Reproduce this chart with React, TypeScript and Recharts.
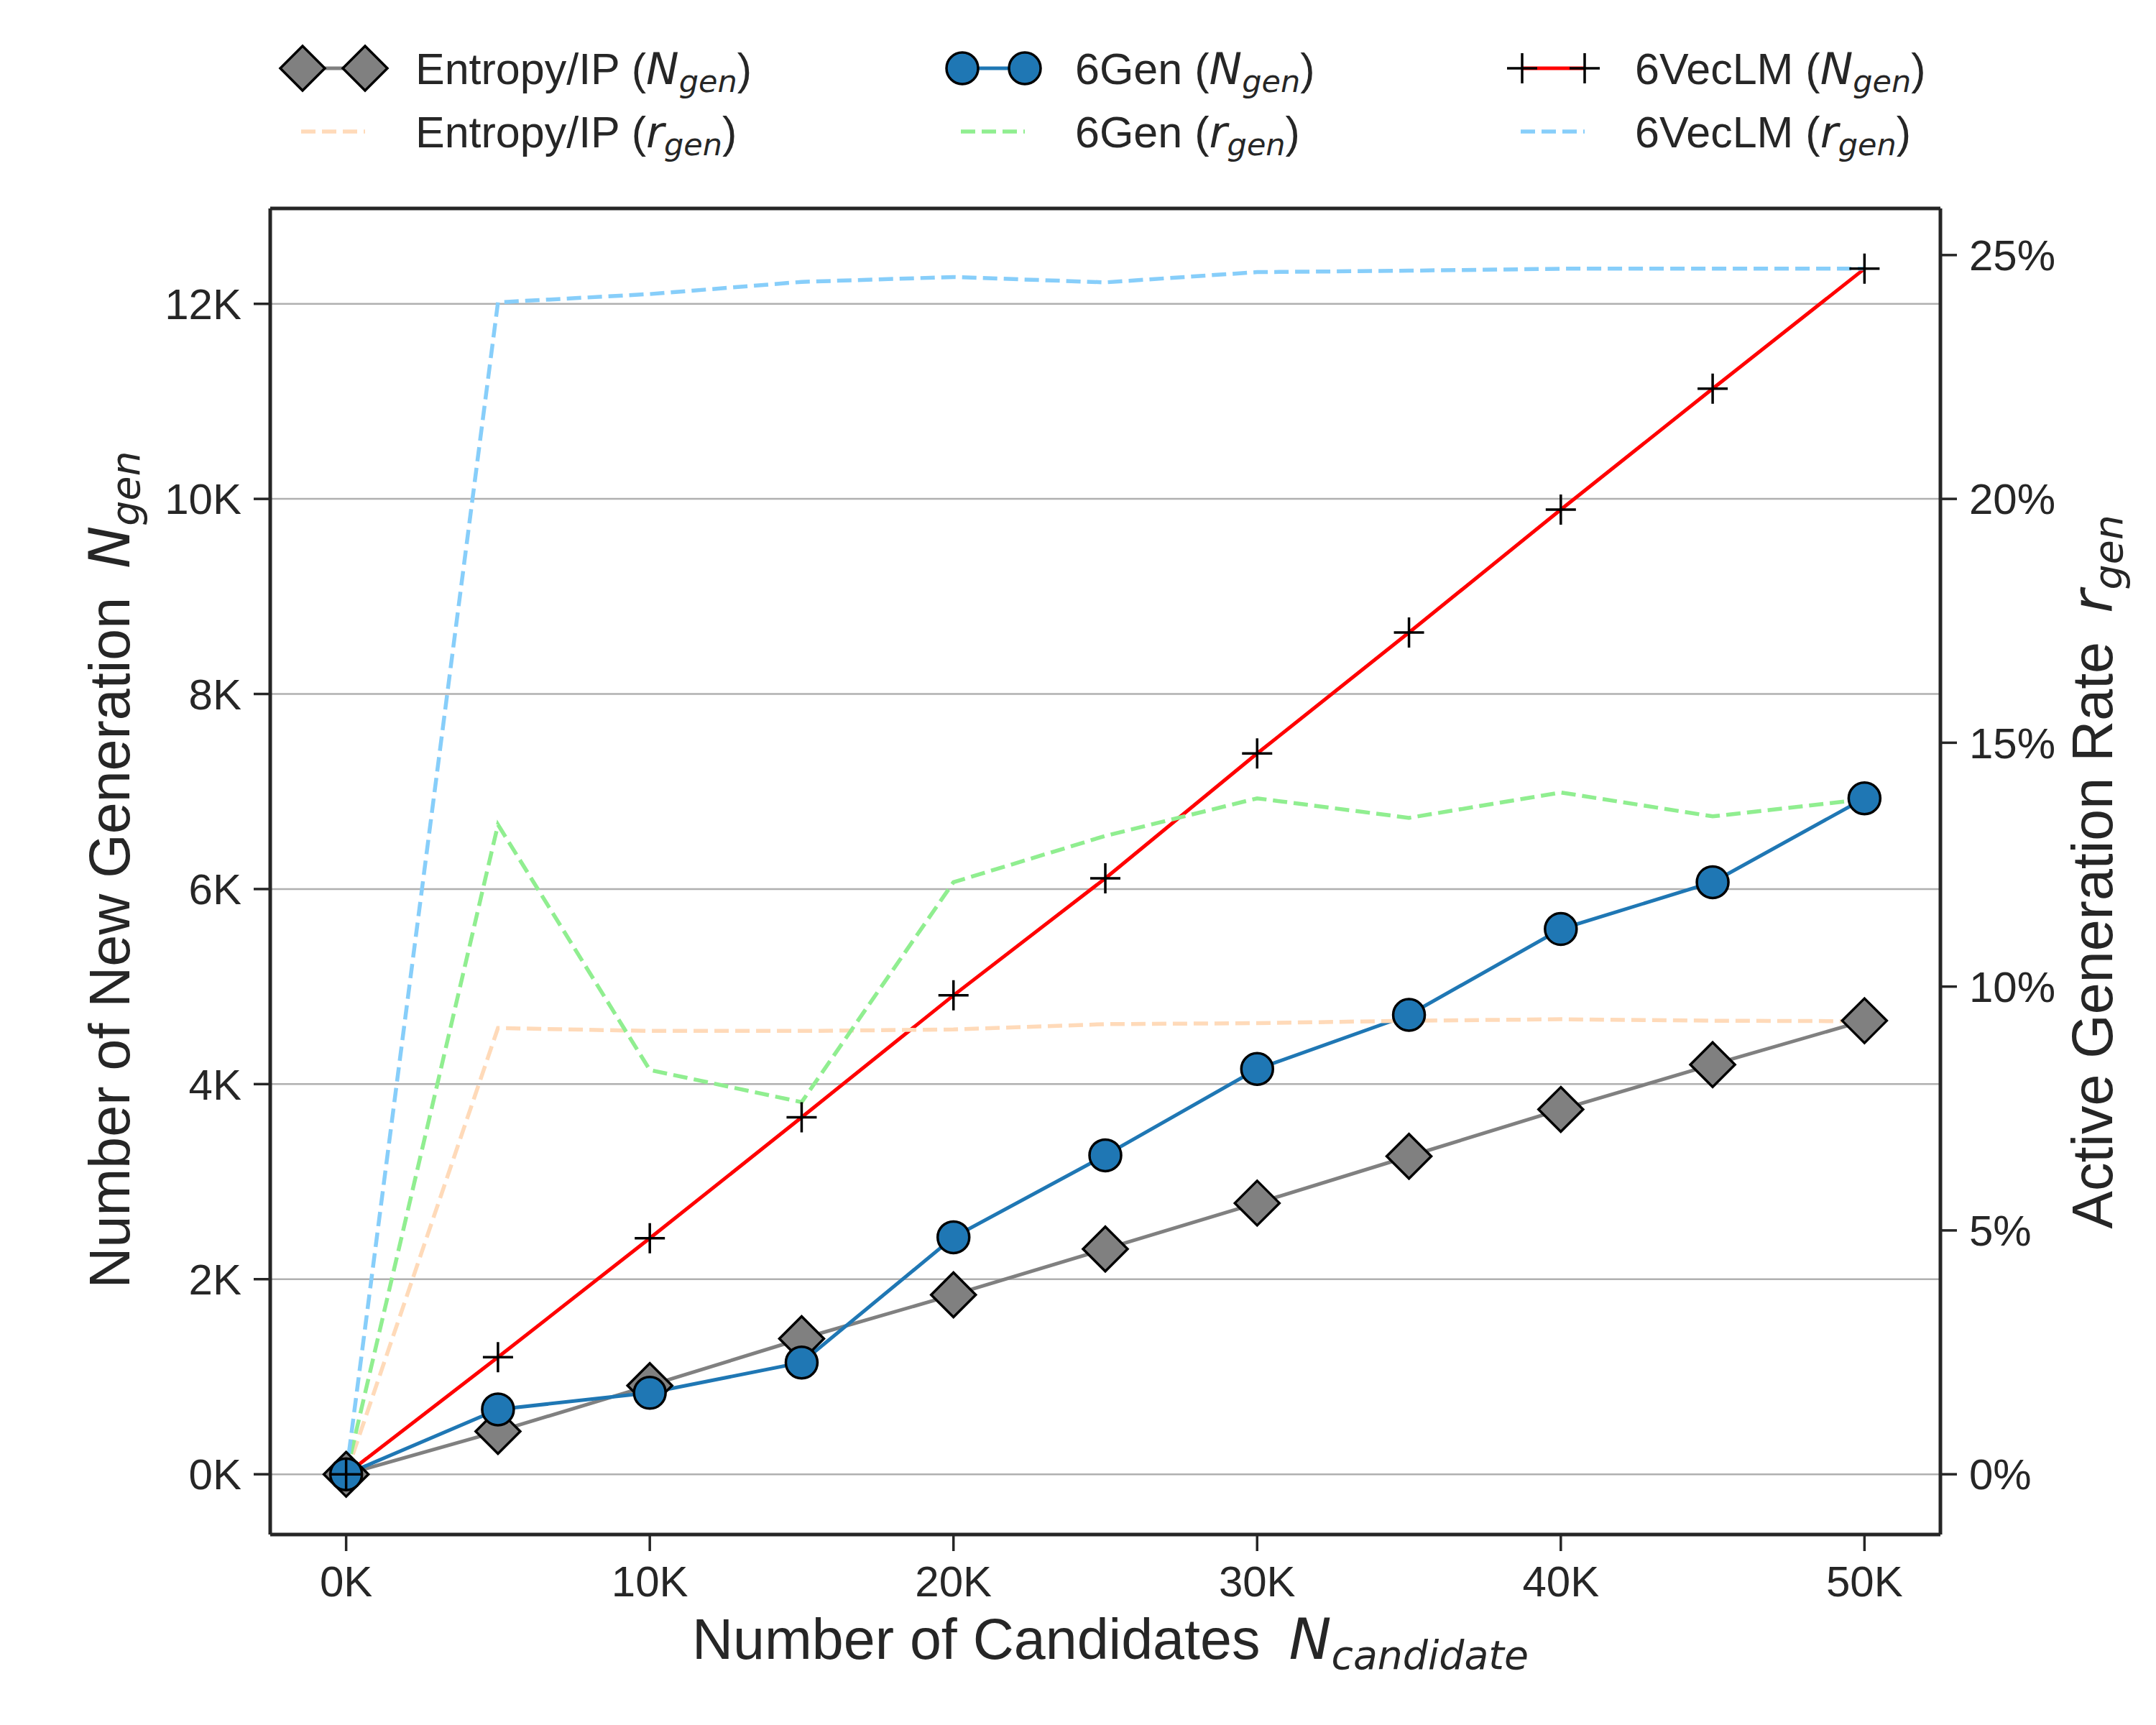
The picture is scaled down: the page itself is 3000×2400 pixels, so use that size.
import React from "react";
import { LineChart, Line, XAxis, YAxis, CartesianGrid, Label, ReferenceLine } from "recharts";

// candidates (x) and the six series
const candidates = [0, 5000, 10000, 15000, 20000, 25000, 30000, 35000, 40000, 45000, 50000];
const entropyN = [0, 440, 910, 1390, 1840, 2310, 2780, 3260, 3740, 4200, 4650];
const sixGenN = [0, 665, 835, 1145, 2430, 3270, 4155, 4710, 5590, 6070, 6930];
const vecLmN = [0, 1200, 2420, 3660, 4910, 6110, 7390, 8630, 9890, 11130, 12360];
const entropyR = [0, 9.15, 9.09, 9.09, 9.12, 9.23, 9.25, 9.3, 9.33, 9.3, 9.29];
const sixGenR = [0, 13.32, 8.29, 7.63, 12.14, 13.09, 13.86, 13.46, 13.98, 13.49, 13.84];
const vecLmR = [0, 24.03, 24.2, 24.45, 24.55, 24.44, 24.65, 24.68, 24.72, 24.72, 24.72];

const xTicks = [0, 10000, 20000, 30000, 40000, 50000];
const leftTicks = [0, 2000, 4000, 6000, 8000, 10000, 12000];
const rightTicks = [0, 5, 10, 15, 20, 25];

const LEFT_DOMAIN: [number, number] = [-618, 12978];
const RIGHT_DOMAIN: [number, number] = [-1.236, 25.956];

const rows = candidates.map((x, i) => ({
  x,
  entropyN: entropyN[i],
  sixGenN: sixGenN[i],
  vecLmN: vecLmN[i],
  entropyR: entropyR[i],
  sixGenR: sixGenR[i],
  vecLmR: vecLmR[i],
}));

const INK = "#262626";
const SANS = "'Liberation Sans', Arial, sans-serif";
const MATH = "'DejaVu Sans', sans-serif";
const tickStyle = { fontSize: 60, fontFamily: SANS, fill: INK };

const Diamond = ({ cx, cy }: { cx: number; cy: number }) => (
  <path
    d={`M${cx},${cy - 31} L${cx + 31},${cy} L${cx},${cy + 31} L${cx - 31},${cy} Z`}
    fill="#808080"
    stroke="#000"
    strokeWidth={3.5}
  />
);
const Circle = ({ cx, cy }: { cx: number; cy: number }) => (
  <circle cx={cx} cy={cy} r={22} fill="#1f77b4" stroke="#000" strokeWidth={3.5} />
);
const Plus = ({ cx, cy }: { cx: number; cy: number }) => (
  <path d={`M${cx - 21},${cy} H${cx + 21} M${cx},${cy - 21} V${cy + 21}`} stroke="#000" strokeWidth={3.5} />
);

const dotOf = (Shape: React.FC<{ cx: number; cy: number }>, tag: string) => (p: any) => (
  <g key={`${tag}-${p.index}`}>
    <Shape cx={p.cx} cy={p.cy} />
  </g>
);

// text with a math part like "N_gen"
const mathLabel = (plain: string, sym: string, sub: string, size: number, gap: number) => [
  <tspan key="p">{plain}</tspan>,
  <tspan key="s" dx={gap} fontFamily={MATH} fontStyle="italic">
    {sym}
  </tspan>,
  <tspan key="b" fontFamily={MATH} fontStyle="italic" fontSize={size * 0.7} dy={size * 0.18}>
    {sub}
  </tspan>,
];

const legendItems = [
  { name: "Entropy/IP", sym: "N", kind: "diamond", color: "#808080", x: 421, row: 0 },
  { name: "6Gen", sym: "N", kind: "circle", color: "#1f77b4", x: 1339, row: 0 },
  { name: "6VecLM", sym: "N", kind: "plus", color: "#ff0000", x: 2118, row: 0 },
  { name: "Entropy/IP", sym: "r", kind: "dash", color: "#ffdab9", x: 421, row: 1 },
  { name: "6Gen", sym: "r", kind: "dash", color: "#90ee90", x: 1339, row: 1 },
  { name: "6VecLM", sym: "r", kind: "dash", color: "#87cefa", x: 2118, row: 1 },
];

const LegendBox = () => (
  <svg width={3000} height={260} style={{ position: "absolute", left: 0, top: 0 }}>
    {legendItems.map((it, i) => {
      const cy = it.row === 0 ? 95 : 183;
      const x2 = it.x + 87;
      return (
        <g key={i}>
          {it.kind === "dash" ? (
            <line x1={it.x - 2} x2={x2} y1={cy} y2={cy} stroke={it.color} strokeWidth={5.5} strokeDasharray="20 9" />
          ) : (
            <line x1={it.x} x2={x2} y1={cy} y2={cy} stroke={it.color} strokeWidth={5} />
          )}
          {it.kind === "diamond" && [<Diamond key="a" cx={it.x} cy={cy} />, <Diamond key="b" cx={x2} cy={cy} />]}
          {it.kind === "circle" && [<Circle key="a" cx={it.x} cy={cy} />, <Circle key="b" cx={x2} cy={cy} />]}
          {it.kind === "plus" && [<Plus key="a" cx={it.x} cy={cy} />, <Plus key="b" cx={x2} cy={cy} />]}
          <text x={it.x + 157} y={cy + 22} fontSize={61} fontFamily={SANS} fill={INK}>
            <tspan>{it.name} (</tspan>
            <tspan fontFamily={MATH} fontStyle="italic">{it.sym}</tspan>
            <tspan fontFamily={MATH} fontStyle="italic" fontSize={43} dy={11}>gen</tspan>
            <tspan dy={-11}>)</tspan>
          </text>
        </g>
      );
    })}
  </svg>
);

const axisLine = { stroke: INK, strokeWidth: 5 };
const tickLine = { stroke: INK, strokeWidth: 3.5 };

export default function App() {
  return (
    <div style={{ position: "absolute", left: 0, top: 0, width: 3000, height: 2400, background: "#fff" }}>
      <LineChart width={3000} height={2400} data={rows} margin={{ top: 290, right: 100, bottom: 65, left: 176 }}>
        <CartesianGrid yAxisId="left" vertical={false} stroke="#b0b0b0" strokeWidth={2.5} />
        <XAxis
          dataKey="x"
          type="number"
          domain={[-2500, 52500]}
          ticks={xTicks}
          tickFormatter={(v: number) => `${v / 1000}K`}
          height={200}
          tick={tickStyle}
          tickSize={23}
          tickMargin={20}
          axisLine={axisLine}
          tickLine={tickLine}
        >
          <Label
            content={() => (
              <text x={1545} y={2308} textAnchor="middle" fontSize={79} fontFamily={SANS} fill={INK}>
                {mathLabel("Number of Candidates", "N", "candidate", 79, 40)}
              </text>
            )}
          />
        </XAxis>
        <YAxis
          yAxisId="left"
          type="number"
          domain={LEFT_DOMAIN}
          ticks={leftTicks}
          tickFormatter={(v: number) => `${v / 1000}K`}
          width={200}
          tick={tickStyle}
          tickSize={23}
          tickMargin={17}
          axisLine={axisLine}
          tickLine={tickLine}
        >
          <Label
            content={() => (
              <text
                x={180}
                y={1210}
                transform="rotate(-90, 180, 1210)"
                textAnchor="middle"
                fontSize={79}
                fontFamily={SANS}
                fill={INK}
              >
                {mathLabel("Number of New Generation", "N", "gen", 79, 40)}
              </text>
            )}
          />
        </YAxis>
        <YAxis
          yAxisId="right"
          orientation="right"
          type="number"
          domain={RIGHT_DOMAIN}
          ticks={rightTicks}
          tickFormatter={(v: number) => `${v}%`}
          width={200}
          tick={tickStyle}
          tickSize={23}
          tickMargin={17}
          axisLine={axisLine}
          tickLine={tickLine}
        >
          <Label
            content={() => (
              <text
                x={2939}
                y={1213}
                transform="rotate(-90, 2939, 1213)"
                textAnchor="middle"
                fontSize={79}
                fontFamily={SANS}
                fill={INK}
              >
                {mathLabel("Active Generation Rate", "r", "gen", 79, 40)}
              </text>
            )}
          />
        </YAxis>

        {/* top spine of the box */}
        <ReferenceLine yAxisId="left" y={LEFT_DOMAIN[1]} stroke={INK} strokeWidth={5} />

        <Line yAxisId="left" dataKey="entropyN" stroke="#808080" strokeWidth={5} dot={dotOf(Diamond, "d")} activeDot={false} isAnimationActive={false} />
        <Line yAxisId="left" dataKey="sixGenN" stroke="#1f77b4" strokeWidth={5} dot={dotOf(Circle, "c")} activeDot={false} isAnimationActive={false} />
        <Line yAxisId="left" dataKey="vecLmN" stroke="#ff0000" strokeWidth={5} dot={dotOf(Plus, "p")} activeDot={false} isAnimationActive={false} />
        <Line yAxisId="right" dataKey="entropyR" stroke="#ffdab9" strokeWidth={5.5} strokeDasharray="20 9" dot={false} activeDot={false} isAnimationActive={false} />
        <Line yAxisId="right" dataKey="sixGenR" stroke="#90ee90" strokeWidth={5.5} strokeDasharray="20 9" dot={false} activeDot={false} isAnimationActive={false} />
        <Line yAxisId="right" dataKey="vecLmR" stroke="#87cefa" strokeWidth={5.5} strokeDasharray="20 9" dot={false} activeDot={false} isAnimationActive={false} />
      </LineChart>
      <LegendBox />
    </div>
  );
}
